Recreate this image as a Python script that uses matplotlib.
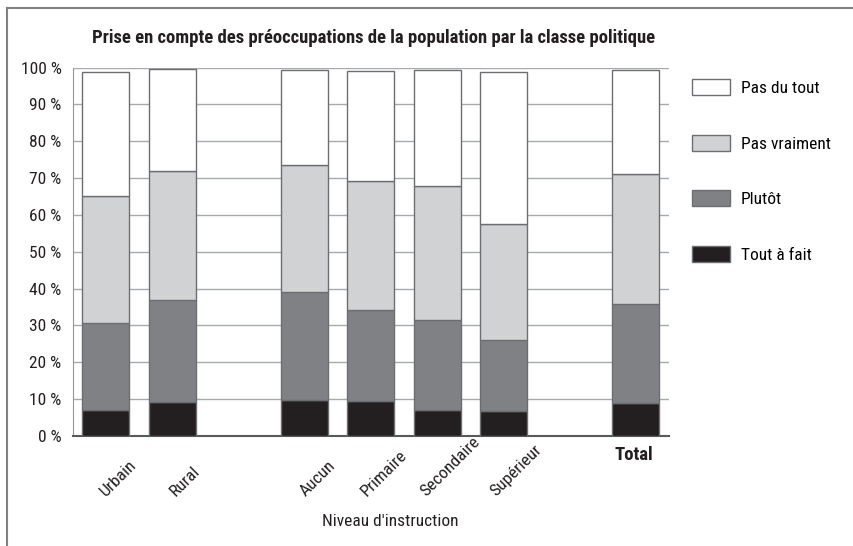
import matplotlib
matplotlib.use("Agg")
import matplotlib.pyplot as plt
from matplotlib.lines import Line2D
from matplotlib.patches import Patch
from matplotlib.transforms import ScaledTranslation
import numpy as np

plt.rcParams['font.family'] = ['Roboto Condensed', 'DejaVu Sans']

categories = ['Urbain', 'Rural', 'Aucun', 'Primaire', 'Secondaire', 'Supérieur', 'Total']
positions = [0, 1, 3, 4, 5, 6, 8]
series = ['Tout à fait', 'Plutôt', 'Pas vraiment', 'Pas du tout']
tout_a_fait = [7.0, 9.3, 9.8, 9.6, 7.0, 6.8, 9.0]
plutot = [23.8, 27.5, 29.4, 24.5, 24.6, 19.2, 26.9]
pas_vraiment = [34.2, 35.2, 34.3, 35.2, 36.3, 31.6, 35.2]
pas_du_tout = [33.9, 27.5, 25.8, 29.7, 31.4, 41.3, 28.2]
colors = ['#231f20', '#808184', '#d1d2d4', '#ffffff']

FS = 12.5
fig = plt.figure(figsize=(8.54, 5.46), dpi=100)
W, H = 854, 546
ax = fig.add_axes([72.7 / W, 1 - 436 / H, (669 - 72.7) / W, (436 - 67.5) / H])

values = [tout_a_fait, plutot, pas_vraiment, pas_du_tout]
bottom = np.zeros(len(categories))
handles = []
for name, vals, col in zip(series, values, colors):
    ax.bar(positions, vals, width=0.71, bottom=bottom, color=col,
           edgecolor='#6d6e71', linewidth=1, zorder=3)
    bottom += np.array(vals)
    handles.append(Patch(facecolor=col, edgecolor='#6d6e71', linewidth=1, label=name))

ax.set_xlim(-0.5, 8.5)
ax.set_ylim(0, 100)
ax.set_yticks(range(0, 101, 10))
ax.set_yticklabels([f'{v} %' for v in range(0, 101, 10)], fontsize=FS, color='#231f20')
ax.tick_params(axis='y', length=0, pad=8)
ax.set_xticks([])
ax.yaxis.grid(True, color='#a7a9ac', linewidth=1, zorder=0)
for s in ['top', 'right']:
    ax.spines[s].set_visible(False)
ax.spines['left'].set_color('#939598')
ax.spines['bottom'].set_color('#58595b')
ax.spines['bottom'].set_linewidth(1.5)

# category labels
xt = ax.get_xaxis_transform()
for pos, cat in zip(positions, categories):
    if cat == 'Total':
        ax.text(pos, 0, cat, fontsize=13.5, fontweight='bold', ha='center', va='top', color='#231f20',
                transform=xt + ScaledTranslation(-0.02, -0.10, fig.dpi_scale_trans))
    else:
        ax.text(pos, 0, cat, fontsize=FS, rotation=45, ha='center', va='bottom', color='#231f20',
                transform=xt + ScaledTranslation(0.13, -0.63, fig.dpi_scale_trans))

fig.text(390 / W, 1 - 521 / H, "Niveau d'instruction", fontsize=FS, ha='center', va='center',
         color='#231f20')
fig.text(374 / W, 1 - 38 / H, 'Prise en compte des préoccupations de la population par la classe politique',
         fontsize=13.4, fontweight='bold', ha='center', va='center', color='#231f20')

fig.legend(handles=handles[::-1], loc='upper left', bbox_to_anchor=(685 / W, 1 - 72 / H),
           frameon=False, fontsize=FS, handlelength=2.2, handleheight=1.05,
           labelspacing=2.23, handletextpad=0.6, borderaxespad=0)

# outer frame
fig.add_artist(Line2D([7 / W, 1], [1 - 8 / H, 1 - 8 / H], color='#808184', linewidth=1.5))
fig.add_artist(Line2D([7 / W, 7 / W], [0, 1 - 8 / H], color='#808184', linewidth=1.5))

fig.savefig('out.png', dpi=100)
